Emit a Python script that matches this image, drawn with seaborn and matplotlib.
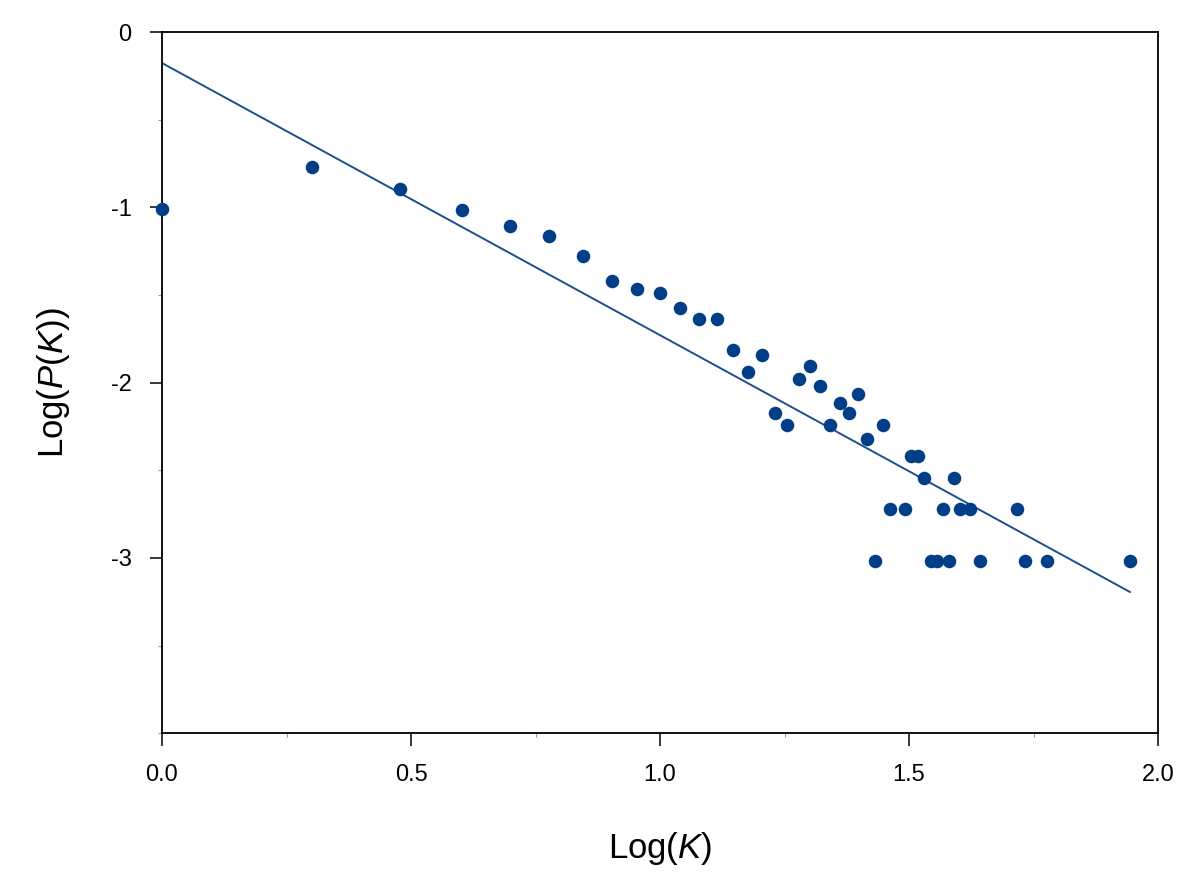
import matplotlib
matplotlib.use('Agg')
import matplotlib.pyplot as plt
import seaborn as sns
import pandas as pd
from matplotlib.ticker import MultipleLocator, FormatStrFormatter

# data
log_k = [0.0, 0.301, 0.477, 0.602, 0.699, 0.778, 0.845, 0.903, 0.954, 1.0,
         1.041, 1.079, 1.114, 1.146, 1.176, 1.204, 1.230, 1.255, 1.279, 1.301,
         1.322, 1.342, 1.362, 1.380, 1.398, 1.415, 1.431, 1.447, 1.462, 1.491,
         1.505, 1.519, 1.531, 1.544, 1.556, 1.568, 1.580, 1.591, 1.602, 1.623,
         1.643, 1.716, 1.732, 1.778, 1.944]
log_p = [-1.01, -0.77, -0.896, -1.016, -1.106, -1.163, -1.28, -1.418, -1.464, -1.488,
         -1.573, -1.64, -1.64, -1.816, -1.941, -1.844, -2.175, -2.242, -1.979, -1.906,
         -2.02, -2.242, -2.117, -2.175, -2.066, -2.321, -3.02, -2.242, -2.719, -2.719,
         -2.418, -2.418, -2.543, -3.02, -3.02, -2.719, -3.02, -2.543, -2.719, -2.719,
         -3.02, -2.719, -3.02, -3.02, -3.02]
fit_x = [0.0, 1.944]
fit_y = [-0.177, -3.195]

pts = pd.DataFrame({'logK': log_k, 'logP': log_p})
fit = pd.DataFrame({'logK': fit_x, 'logP': fit_y})

sns.set_style('white')
plt.rcParams['font.family'] = ['Liberation Sans', 'DejaVu Sans']
plt.rcParams['mathtext.fontset'] = 'custom'
plt.rcParams['mathtext.rm'] = 'Liberation Sans'
plt.rcParams['mathtext.it'] = 'Liberation Sans:italic'
plt.rcParams['axes.unicode_minus'] = False
plt.rcParams['text.color'] = 'black'
plt.rcParams['axes.labelcolor'] = 'black'
plt.rcParams['xtick.color'] = 'black'
plt.rcParams['ytick.color'] = 'black'

fig = plt.figure(figsize=(12, 8.77), dpi=100)
ax = fig.add_axes([0.135, 0.164, 0.83, 0.7995])

sns.lineplot(x='logK', y='logP', data=fit, color='#1c4f8c', linewidth=1.4, ax=ax)
sns.scatterplot(x='logK', y='logP', data=pts, color='#003f87', s=95,
                linewidth=0, ax=ax, zorder=3, clip_on=False)

ax.set_xlim(0, 2.0)
ax.set_ylim(-4, 0)
ax.xaxis.set_major_locator(MultipleLocator(0.5))
ax.xaxis.set_minor_locator(MultipleLocator(0.25))
ax.xaxis.set_major_formatter(FormatStrFormatter('%.1f'))
ax.set_yticks([0, -1, -2, -3])
ax.set_yticklabels(['0', '-1', '-2', '-3'])
ax.yaxis.set_minor_locator(MultipleLocator(0.5))

ax.tick_params(which='major', direction='out', length=9, width=1.1, color='black',
               labelsize=17, pad=13, labelcolor='black',
               bottom=True, left=True, top=False, right=False)
ax.tick_params(which='minor', direction='out', length=3, width=0.8, color='#999999',
               bottom=True, left=True, top=False, right=False)

for sp in ax.spines.values():
    sp.set_color('black')
    sp.set_linewidth(1.3)

ax.set_xlabel(r'Log($\mathit{K}$)', fontsize=25, labelpad=32)
ax.set_ylabel(r'Log($\mathit{P}$($\mathit{K}$))', fontsize=25, labelpad=28)

fig.savefig('out.png', dpi=100)
